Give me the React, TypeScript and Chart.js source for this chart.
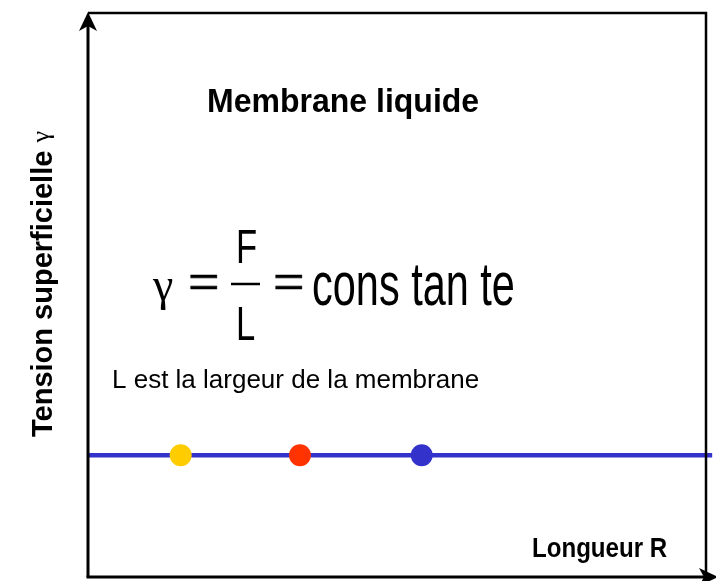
import React, { useEffect, useRef } from "react";
import { Chart, registerables } from "chart.js";

Chart.register(...registerables);

// Data
const pointLengths = [15, 34.3, 54];
const pointGamma = [21.6, 21.6, 21.6];
const pointColors = ["#ffcc00", "#ff3300", "#3333cc"];
const lineLengths = [0, 101];
const lineGamma = [21.6, 21.6];

const titleText = "Membrane liquide";
const noteText = "L est la largeur de la membrane";
const xTitle = "Longueur R";
const yTitle = "Tension superficielle";
const yTitleSymbol = "γ";

const decorPlugin = {
  id: "decor",
  afterDraw(chart: any) {
    const ctx = chart.ctx as CanvasRenderingContext2D;
    const a = chart.chartArea;
    ctx.save();
    ctx.strokeStyle = "#000";
    ctx.fillStyle = "#000";
    // top & right borders
    ctx.lineWidth = 2.5;
    ctx.beginPath();
    ctx.moveTo(a.left, a.top);
    ctx.lineTo(a.right, a.top);
    ctx.lineTo(a.right, a.bottom);
    ctx.stroke();
    // y axis
    ctx.lineWidth = 3;
    ctx.beginPath();
    ctx.moveTo(a.left, a.bottom);
    ctx.lineTo(a.left, a.top + 10);
    ctx.stroke();
    // x axis
    ctx.beginPath();
    ctx.moveTo(a.left - 1.5, a.bottom);
    ctx.lineTo(a.right + 2, a.bottom);
    ctx.stroke();
    // y arrow
    ctx.beginPath();
    ctx.moveTo(a.left, a.top - 1);
    ctx.lineTo(a.left - 9, a.top + 18);
    ctx.lineTo(a.left, a.top + 13);
    ctx.lineTo(a.left + 9, a.top + 18);
    ctx.closePath();
    ctx.fill();
    // x arrow
    ctx.beginPath();
    ctx.moveTo(a.right + 12, a.bottom);
    ctx.lineTo(a.right - 7, a.bottom - 9);
    ctx.lineTo(a.right - 2, a.bottom);
    ctx.lineTo(a.right - 7, a.bottom + 9);
    ctx.closePath();
    ctx.fill();

    // Texts
    ctx.textBaseline = "alphabetic";
    ctx.textAlign = "left";
    ctx.save();
    ctx.translate(207, 112);
    ctx.scale(0.97, 1);
    ctx.font = "bold 33px 'Liberation Sans', Arial, sans-serif";
    ctx.fillText(titleText, 0, 0);
    ctx.restore();

    ctx.font = "26px 'Liberation Sans', Arial, sans-serif";
    ctx.fillText(noteText, 112, 388);

    // x title (condensed)
    ctx.save();
    ctx.translate(532, 557);
    ctx.scale(0.86, 1);
    ctx.font = "bold 28px 'Liberation Sans', Arial, sans-serif";
    ctx.fillText(xTitle, 0, 0);
    ctx.restore();

    // y title
    ctx.save();
    ctx.translate(52, 437);
    ctx.rotate(-Math.PI / 2);
    ctx.textAlign = "left";
    ctx.font = "bold 29px 'Liberation Sans', Arial, sans-serif";
    ctx.fillText(yTitle, 0, 0);
    const w = ctx.measureText(yTitle + " ").width;
    ctx.font = "26px 'Liberation Serif', 'Times New Roman', serif";
    ctx.fillText(yTitleSymbol, w, -3);
    ctx.restore();

    // formula
    ctx.font = "46px 'Liberation Serif', 'Times New Roman', serif";
    ctx.fillText("γ", 153, 300);
    ctx.save();
    ctx.font = "56px 'Liberation Serif', 'Times New Roman', serif";
    ctx.lineWidth = 0.6;
    ctx.fillText("=", 188, 301);
    ctx.strokeText("=", 188, 301);
    ctx.fillText("=", 273, 301);
    ctx.strokeText("=", 273, 301);
    ctx.restore();
    ctx.lineWidth = 2.5;
    ctx.beginPath();
    ctx.moveTo(231, 284);
    ctx.lineTo(260, 284);
    ctx.stroke();
    ctx.save();
    ctx.translate(236, 263);
    ctx.scale(0.72, 1);
    ctx.font = "48px 'Liberation Sans', Arial, sans-serif";
    ctx.fillText("F", 0, 0);
    ctx.restore();
    ctx.save();
    ctx.translate(236, 340);
    ctx.scale(0.72, 1);
    ctx.font = "48px 'Liberation Sans', Arial, sans-serif";
    ctx.fillText("L", 0, 0);
    ctx.restore();
    ctx.save();
    ctx.translate(312, 305);
    ctx.scale(0.68, 1);
    ctx.font = "61px 'Liberation Sans', Arial, sans-serif";
    ctx.fillText("cons tan te", 0, 0);
    ctx.restore();

    ctx.restore();
  },
};

export default function App() {
  const ref = useRef<HTMLCanvasElement | null>(null);
  useEffect(() => {
    if (!ref.current) return;
    const chart = new Chart(ref.current, {
      type: "scatter",
      data: {
        datasets: [
          {
            type: "scatter",
            data: pointLengths.map((x, i) => ({ x, y: pointGamma[i] })),
            backgroundColor: pointColors,
            pointBackgroundColor: pointColors,
            pointBorderWidth: 0,
            pointRadius: 11,
            order: 0,
          } as any,
          {
            type: "line",
            data: lineLengths.map((x, i) => ({ x, y: lineGamma[i] })),
            borderColor: "#3333cc",
            borderWidth: 4.5,
            pointRadius: 0,
            showLine: true,
            clip: false,
            order: 1,
          } as any,
        ],
      },
      options: {
        responsive: false,
        animation: false,
        layout: { autoPadding: false, padding: { left: 88, top: 13, right: 10, bottom: 4 } },
        plugins: { legend: { display: false }, tooltip: { enabled: false } },
        scales: {
          x: { type: "linear", min: 0, max: 100, display: false },
          y: { type: "linear", min: 0, max: 100, display: false },
        },
      },
      plugins: [decorPlugin],
    });
    return () => chart.destroy();
  }, []);
  return (
    <div style={{ position: "fixed", left: 0, top: 0, width: 716, height: 581, background: "#fff" }}>
      <canvas ref={ref} width={716} height={581} />
    </div>
  );
}
